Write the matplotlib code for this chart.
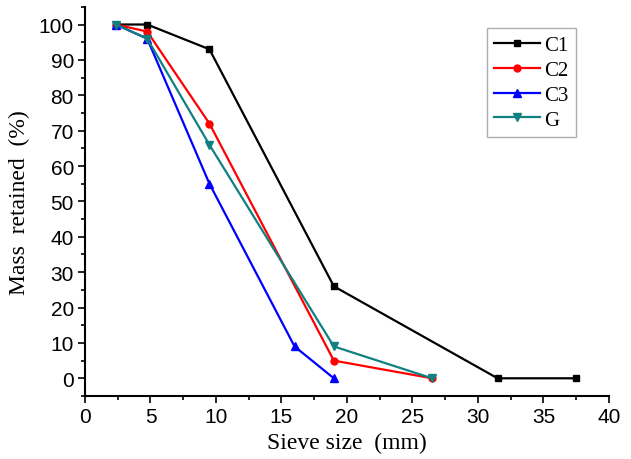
import matplotlib
matplotlib.use("Agg")
import matplotlib.pyplot as plt
from matplotlib.ticker import MultipleLocator

# sieve data
x_c1 = [2.36, 4.75, 9.5, 19, 31.5, 37.5]
y_c1 = [100, 100, 93, 26, 0, 0]
x_c2 = [2.36, 4.75, 9.5, 19, 26.5]
y_c2 = [100, 98, 72, 5, 0]
x_c3 = [2.36, 4.75, 9.5, 16, 19]
y_c3 = [100, 96, 55, 9, 0]
x_g = [2.36, 4.75, 9.5, 19, 26.5]
y_g = [100, 96, 66, 9, 0]

fig = plt.figure(figsize=(6.31, 4.60), dpi=100)
ax = fig.add_axes([0.1347, 0.137, 0.8303, 0.846])

ax.plot(x_c1, y_c1, color='black', marker='s', ms=5, lw=1.6, label='C1')
ax.plot(x_c2, y_c2, color='red', marker='o', ms=5, lw=1.6, label='C2')
ax.plot(x_c3, y_c3, color='blue', marker='^', ms=6, lw=1.6, label='C3')
ax.plot(x_g, y_g, color='#108080', marker='v', ms=6, lw=1.6, label='G')

ax.set_xlim(0, 40)
ax.set_ylim(-5, 105)
ax.xaxis.set_major_locator(MultipleLocator(5))
ax.xaxis.set_minor_locator(MultipleLocator(2.5))
ax.yaxis.set_minor_locator(MultipleLocator(5))
ax.set_yticks(range(0, 101, 10))

for s in ['top', 'right']:
    ax.spines[s].set_visible(False)
for s in ['left', 'bottom']:
    ax.spines[s].set_linewidth(1.5)
ax.tick_params(which='major', direction='out', length=5, width=1.2,
               labelsize=15, pad=3)
ax.tick_params(which='minor', direction='out', length=3, width=1.2)
for lab in ax.get_xticklabels() + ax.get_yticklabels():
    lab.set_family('Liberation Sans')

ax.set_xlabel('Sieve size  (mm)', family='Liberation Serif', fontsize=17,
              labelpad=4)
ax.set_ylabel('Mass  retained  (%)', family='Liberation Serif', fontsize=17,
              labelpad=6)

leg = ax.legend(loc='upper right', bbox_to_anchor=(0.945, 0.955),
                prop={'family': 'Liberation Serif', 'size': 15},
                fancybox=False, edgecolor='#999999', handlelength=2.2,
                labelspacing=0.25, borderpad=0.35, handletextpad=0.2,
                borderaxespad=0.2)

fig.savefig('out.png', dpi=100)
